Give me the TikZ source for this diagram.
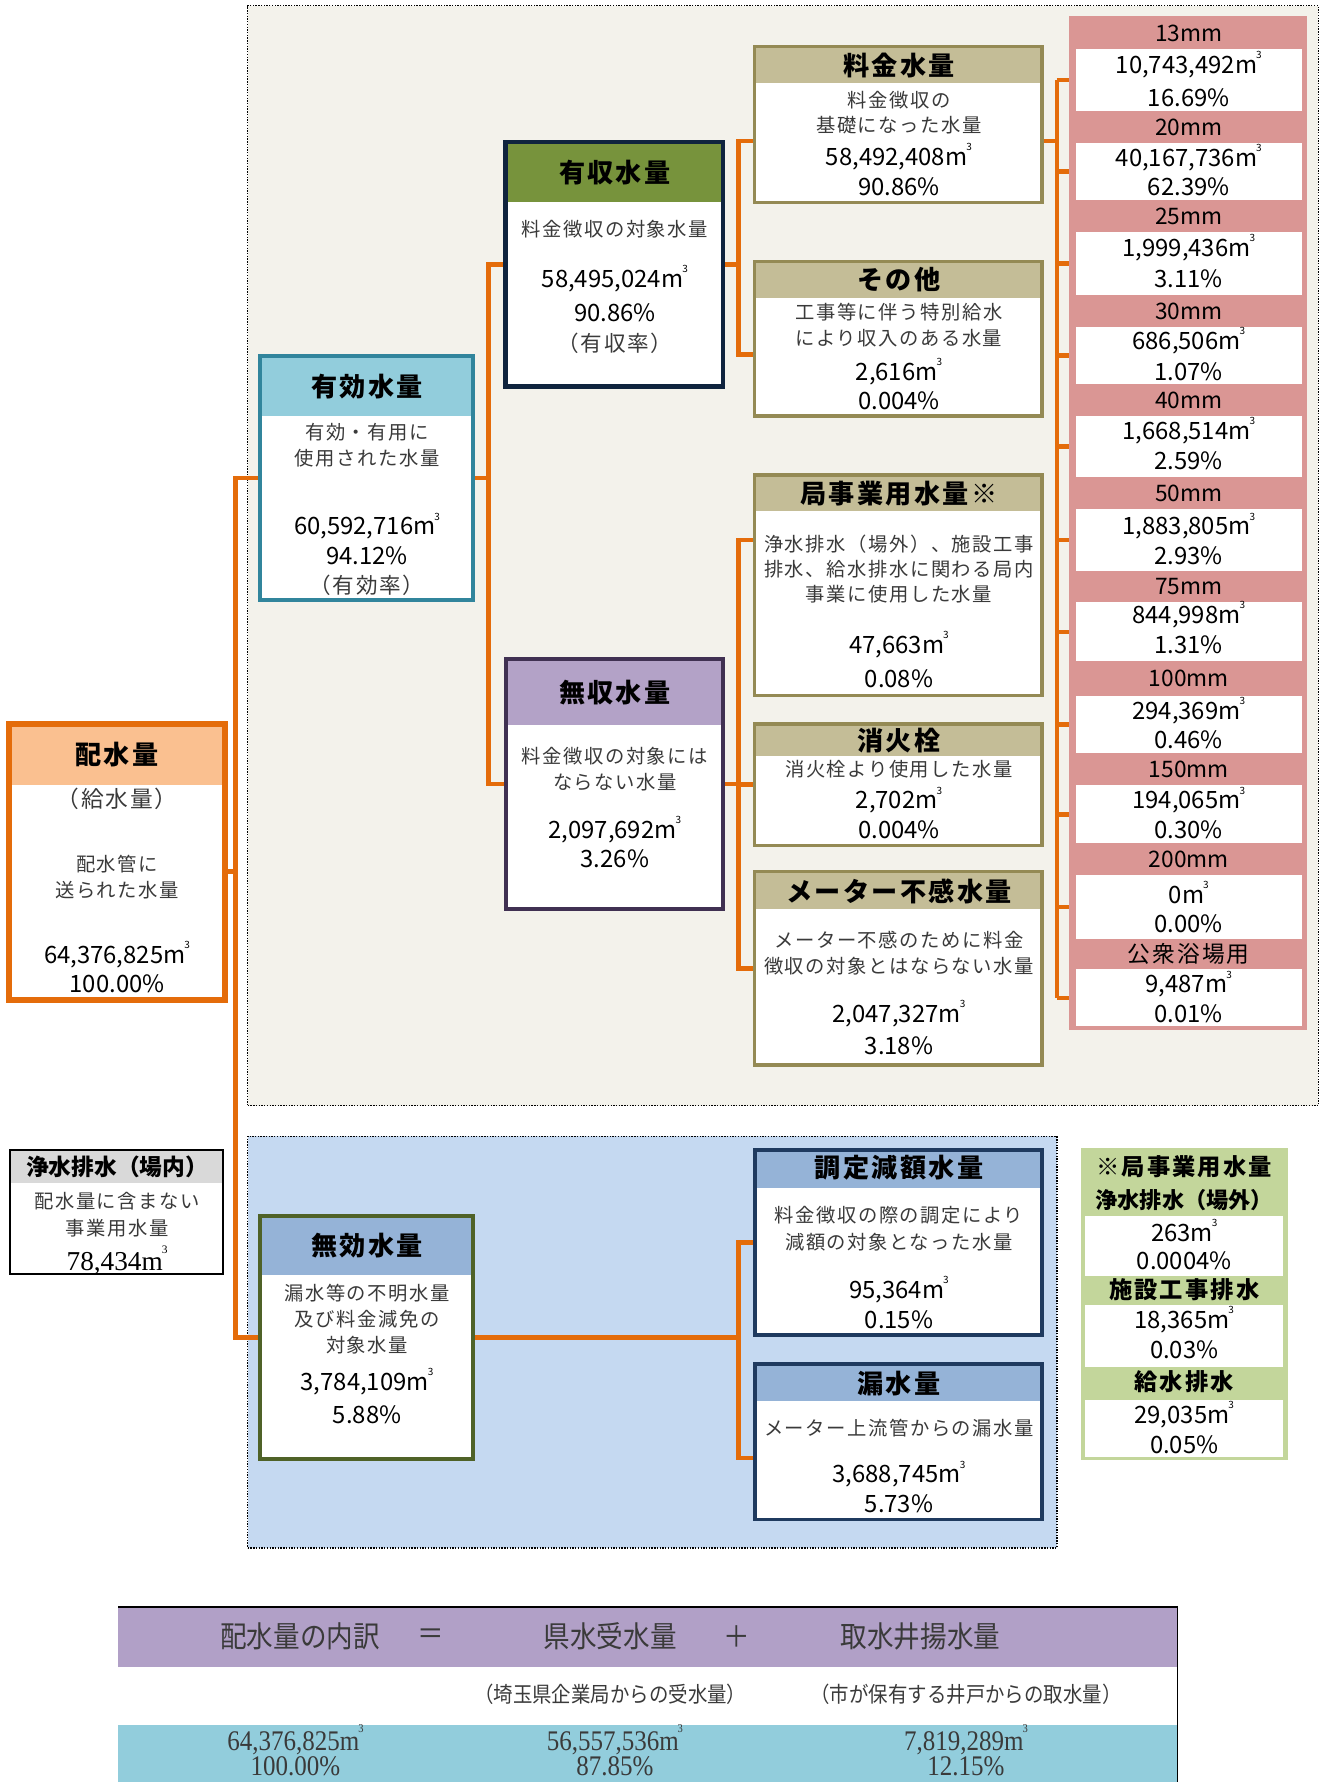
\documentclass[tikz,border=0pt]{standalone}
\usepackage{fontspec}
\setmainfont{Noto Sans CJK JP}
\newfontfamily\jpf{Noto Sans CJK JP}
\newfontfamily\jph{Noto Sans CJK JP}[LetterSpace=9]
\newfontfamily\jpd{Noto Sans CJK JP}[LetterSpace=8]
\newfontfamily\jpc{Noto Sans CJK JP}[FakeStretch=0.9]
\newfontfamily\serf{Liberation Serif}
\newfontfamily\serc{Liberation Serif}[FakeStretch=0.88]
\usetikzlibrary{calc}
\definecolor{orng}{HTML}{E46C0A}
\definecolor{peach}{HTML}{FAC090}
\definecolor{teal}{HTML}{92CDDC}
\definecolor{tealb}{HTML}{31859C}
\definecolor{olivg}{HTML}{77933C}
\definecolor{navy}{HTML}{0F243E}
\definecolor{lav}{HTML}{B3A2C7}
\definecolor{lavb}{HTML}{403152}
\definecolor{khaki}{HTML}{C4BD97}
\definecolor{khakib}{HTML}{948A54}
\definecolor{pinkc}{HTML}{DA9694}
\definecolor{bgA}{HTML}{F3F2EB}
\definecolor{bgB}{HTML}{C5D9F1}
\definecolor{blueh}{HTML}{95B3D7}
\definecolor{grnb}{HTML}{4F6228}
\definecolor{navyb}{HTML}{1F3A5F}
\definecolor{lgreen}{HTML}{C3D69B}
\definecolor{grayh}{HTML}{D9D9D9}
\definecolor{dgray}{HTML}{3A3A3A}
\definecolor{tpur}{HTML}{B1A0C7}
\newcommand\cum{m\kern-0.04em\raisebox{0.62em}{\scalebox{0.42}{3}}}
\newcounter{tn}
\newcommand\T[3]{\stepcounter{tn}\node[#1] (t\arabic{tn}) at (#2) {#3};}
\newcommand\B[8]{%
 \node[fill=white,inner sep=0,outer sep=0,minimum width=#4pt,minimum height=#5pt,anchor=north west] (#1) at (#2,#3) {};
 \node[fill=#8,inner sep=0,outer sep=0,minimum width=#4pt,minimum height=#6pt,anchor=north west] (#1h) at (#1.north west) {};
 \draw[#7] (#1.north west) rectangle (#1.south east);}
\newcommand\R[9]{%
 \node[wbox,minimum height=\the\numexpr#5-#4\relax pt] (#1) at (947,#4) {};
 \T{rc}{1046,{(#3+#4)/2}}{#2}
 \T{nm}{1046,#6}{#8}
 \T{nm}{1046,#7}{#9}}
\pgfdeclarelayer{back}
\pgfdeclarelayer{wires}
\pgfsetlayers{back,wires,main}
\begin{document}
\begin{tikzpicture}[x=1pt,y=-1pt,
  region/.style={draw=black,line width=1.2pt,dash pattern=on 1.2pt off 1.2pt,inner sep=0,outer sep=0},
  conn/.style={draw=orng,line width=4pt},
  hd/.style={font=\jph\bfseries\fontsize{23}{26}\selectfont,inner sep=0},
  ds/.style={font=\jpd\fontsize{17}{20}\selectfont,text=dgray,inner sep=0},
  pl/.style={font=\jpd\fontsize{19}{22}\selectfont,text=dgray,inner sep=0},
  nm/.style={font=\jpf\fontsize{21}{24}\selectfont,inner sep=0},
  rc/.style={font=\jpf\fontsize{20}{24}\selectfont,inner sep=0},
  gh/.style={font=\jph\bfseries\fontsize{20.5}{24}\selectfont,inner sep=0},
  wbox/.style={fill=white,inner sep=0,outer sep=0,minimum width=199pt,anchor=north west},
  gw/.style={fill=white,inner sep=0,outer sep=0,minimum width=174pt,anchor=north west},
  tj/.style={font=\jpc\fontsize{26}{28}\selectfont,text=dgray,inner sep=0},
  tjs/.style={font=\jpc\fontsize{19}{22}\selectfont,text=dgray,inner sep=0},
  tn/.style={font=\serc\fontsize{25}{27}\selectfont,text=dgray,inner sep=0}]
\useasboundingbox (0,0) rectangle (1168,1568);
\begin{pgfonlayer}{back}
\fill[white] (0,0) rectangle (1168,1568);
\node[region,fill=bgA,minimum width=942pt,minimum height=968pt,anchor=north west] (upper) at (218,5) {};
\node[region,fill=bgB,minimum width=712pt,minimum height=362pt,anchor=north west] (lower) at (218,1000) {};
\end{pgfonlayer}

% ---- main boxes
\B{haisui}{8}{637}{190}{243}{54}{draw=orng,line width=5pt}{peach}
\T{hd}{103,664}{配水量}
\T{pl,font=\jpd\fontsize{20}{22}\selectfont}{103,703}{（給水量）}
\T{ds}{103,760}{配水管に}
\T{ds}{103,783}{送られた水量}
\T{nm}{103,840}{64,376,825\cum}
\T{nm}{103,866}{100.00\%}

\B{yuko}{229}{313}{187}{215}{53}{draw=tealb,line width=3.5pt}{teal}
\T{hd}{323,340}{有効水量}
\T{ds}{323,380}{有効・有用に}
\T{ds}{323,403}{使用された水量}
\T{nm}{323,463}{60,592,716\cum}
\T{nm}{323,489}{94.12\%}
\T{pl}{323,515}{（有効率）}

\B{yushu}{445}{125}{191}{215}{53}{draw=navy,line width=4pt}{olivg}
\T{hd}{541,152}{有収水量}
\T{ds}{541,202}{料金徴収の対象水量}
\T{nm}{541,245}{58,495,024\cum}
\T{nm}{541,275}{90.86\%}
\T{pl}{541,302}{（有収率）}

\B{mushu}{445}{580}{191}{220}{58}{draw=lavb,line width=3.5pt}{lav}
\T{hd}{541,609}{無収水量}
\T{ds}{541,665}{料金徴収の対象には}
\T{ds}{541,688}{ならない水量}
\T{nm}{541,730}{2,097,692\cum}
\T{nm}{541,756}{3.26\%}

\B{ryokin}{664}{41}{253}{137}{32}{draw=khakib,line width=3pt}{khaki}
\T{hd}{791,58}{料金水量}
\T{ds}{791,88}{料金徴収の}
\T{ds}{791,110}{基礎になった水量}
\T{nm}{791,138}{58,492,408\cum}
\T{nm}{791,164}{90.86\%}

\B{sonota}{664}{230}{253}{136}{32}{draw=khakib,line width=3pt}{khaki}
\T{hd}{791,246}{その他}
\T{ds}{791,275}{工事等に伴う特別給水}
\T{ds}{791,298}{により収入のある水量}
\T{nm}{791,327}{2,616\cum}
\T{nm}{791,353}{0.004\%}

\B{kyoku}{664}{418}{253}{194}{32}{draw=khakib,line width=3pt}{khaki}
\T{hd}{791,434}{局事業用水量※}
\T{ds}{791,479}{浄水排水（場外）、施設工事}
\T{ds}{791,501}{排水、給水排水に関わる局内}
\T{ds}{791,523}{事業に使用した水量}
\T{nm}{791,567}{47,663\cum}
\T{nm}{791,597}{0.08\%}

\B{shoka}{664}{637}{253}{107}{28}{draw=khakib,line width=3pt}{khaki}
\T{hd}{791,652}{消火栓}
\T{ds}{791,677}{消火栓より使用した水量}
\T{nm}{791,704}{2,702\cum}
\T{nm}{791,730}{0.004\%}

\B{meter}{664}{767}{253}{170}{33}{draw=khakib,line width=3pt}{khaki}
\T{hd}{791,784}{メーター不感水量}
\T{ds}{791,827}{メーター不感のために料金}
\T{ds}{791,850}{徴収の対象とはならない水量}
\T{nm}{791,892}{2,047,327\cum}
\T{nm}{791,920}{3.18\%}

\B{muko}{229}{1070}{187}{214}{52}{draw=grnb,line width=3.5pt}{blueh}
\T{hd}{323,1096}{無効水量}
\T{ds}{323,1138}{漏水等の不明水量}
\T{ds}{323,1161}{及び料金減免の}
\T{ds}{323,1184}{対象水量}
\T{nm}{323,1216}{3,784,109\cum}
\T{nm}{323,1245}{5.88\%}

\B{chotei}{664}{1012}{253}{163}{33}{draw=navyb,line width=3.5pt}{blueh}
\T{hd}{791,1027}{調定減額水量}
\T{ds}{791,1069}{料金徴収の際の調定により}
\T{ds}{791,1093}{減額の対象となった水量}
\T{nm}{791,1135}{95,364\cum}
\T{nm}{791,1161}{0.15\%}

\B{rousui}{664}{1200}{253}{137}{33}{draw=navyb,line width=3.5pt}{blueh}
\T{hd}{791,1217}{漏水量}
\T{ds}{791,1257}{メーター上流管からの漏水量}
\T{nm}{791,1297}{3,688,745\cum}
\T{nm}{791,1323}{5.73\%}

\B{jousui}{9}{1012}{187}{109}{29}{draw=black,line width=2pt}{grayh}
\T{gh,font=\jpf\bfseries\fontsize{20}{24}\selectfont}{103,1027}{浄水排水（場内）}
\T{ds}{103,1057}{配水量に含まない}
\T{ds}{103,1081}{事業用水量}
\T{nm,font=\serf\fontsize{24}{26}\selectfont}{103,1109}{78,434\cum}

% ---- right column (pipe sizes)
\node[fill=pinkc,inner sep=0,outer sep=0,minimum width=209pt,minimum height=892pt,anchor=north west] (pinkcol) at (941,14) {};
\R{w13}{13mm}{15}{43}{98}{57}{86}{10,743,492\cum}{16.69\%}
\R{w20}{20mm}{98}{126}{176}{139}{164}{40,167,736\cum}{62.39\%}
\R{w25}{25mm}{176}{204}{260}{218}{245}{1,999,436\cum}{3.11\%}
\R{w30}{30mm}{260}{288}{338}{300}{327}{686,506\cum}{1.07\%}
\R{w40}{40mm}{338}{366}{420}{379}{405}{1,668,514\cum}{2.59\%}
\R{w50}{50mm}{420}{448}{502}{463}{489}{1,883,805\cum}{2.93\%}
\R{w75}{75mm}{502}{530}{582}{541}{567}{844,998\cum}{1.31\%}
\R{w100}{100mm}{582}{612}{663}{625}{651}{294,369\cum}{0.46\%}
\R{w150}{150mm}{663}{691}{742}{704}{730}{194,065\cum}{0.30\%}
\R{w200}{200mm}{742}{770}{826}{785}{813}{0\cum}{0.00\%}
\R{wpub}{\jph 公衆浴場用}{826}{853}{903}{866}{892}{9,487\cum}{0.01\%}

% ---- green note box
\node[fill=lgreen,inner sep=0,outer sep=0,minimum width=182pt,minimum height=275pt,anchor=north west] (gbox) at (951,1010) {};
\node[gw,minimum height=53pt] (g1) at (955,1070) {};
\node[gw,minimum height=55pt] (g2) at (955,1148) {};
\node[gw,minimum height=50pt] (g3) at (955,1232) {};
\T{gh}{1042,1027}{※局事業用水量}
\T{gh,font=\jpf\bfseries\fontsize{19.5}{24}\selectfont}{1042,1056}{浄水排水（場外）}
\T{nm}{1042,1083}{263\cum}
\T{nm}{1042,1109}{0.0004\%}
\T{gh}{1042,1135}{施設工事排水}
\T{nm}{1042,1161}{18,365\cum}
\T{nm}{1042,1188}{0.03\%}
\T{gh}{1042,1216}{給水排水}
\T{nm}{1042,1245}{29,035\cum}
\T{nm}{1042,1271}{0.05\%}

% ---- bottom table
\node[fill=tpur,inner sep=0,outer sep=0,minimum width=932pt,minimum height=52pt,anchor=north west] (trow1) at (104,1415) {};
\node[fill=white,inner sep=0,outer sep=0,minimum width=932pt,minimum height=51pt,anchor=north west] (trow2) at (104,1467) {};
\node[fill=teal,inner sep=0,outer sep=0,minimum width=932pt,minimum height=60pt,anchor=north west] (trow3) at (104,1518) {};
\draw[line width=2pt] ([yshift=1pt]trow1.north west) -- ([yshift=1pt]trow1.north east);
\draw[line width=1.5pt] ([yshift=2pt]trow1.north east) -- (trow3.south east);
\T{tj}{264,1440}{配水量の内訳}
\T{tj}{379,1440}{＝}
\T{tj}{537,1440}{県水受水量}
\T{tj}{648,1440}{＋}
\T{tj}{810,1440}{取水井揚水量}
\T{tjs}{537,1491}{（埼玉県企業局からの受水量）}
\T{tjs}{850,1491}{（市が保有する井戸からの取水量）}
\T{tn}{260,1531}{64,376,825\cum}
\T{tn}{260,1554}{100.00\%}
\T{tn}{541,1531}{56,557,536\cum}
\T{tn}{541,1554}{87.85\%}
\T{tn}{850,1531}{7,819,289\cum}
\T{tn}{850,1554}{12.15\%}

% ---- connectors
\coordinate (busA) at (207,0);
\coordinate (busB) at (430,0);
\coordinate (busC) at (650,0);
\coordinate (busD) at (930,0);
\begin{pgfonlayer}{wires}
\draw[conn] (yuko.west) -- (yuko.west -| busA) -- (muko.west -| busA) -- (muko.west);
\draw[conn] ([yshift=-8.5pt]haisui.east) -- ([yshift=-8.5pt]haisui.east -| busA);
\draw[conn] (yuko.east) -- (yuko.east -| busB);
\draw[conn] (yushu.west) -- (yushu.west -| busB) -- (mushu.west -| busB) -- (mushu.west);
\draw[conn] (yushu.east) -- (yushu.east -| busC);
\draw[conn] ([yshift=-14.5pt]ryokin.west) -- ([yshift=-14.5pt]ryokin.west -| busC) -- ([yshift=-14pt]sonota.west -| busC) -- ([yshift=-14pt]sonota.west);
\draw[conn] (mushu.east) -- (mushu.east -| busC);
\draw[conn] ([yshift=40pt]kyoku.west) -- ([yshift=40pt]kyoku.west -| busC) -- (meter.west -| busC) -- (meter.west);
\draw[conn] (shoka.west) -- (shoka.west -| busC);
\draw[conn] (muko.east) -- (muko.east -| busC);
\draw[conn] (chotei.west) -- (chotei.west -| busC) -- ([yshift=-14.5pt]rousui.west -| busC) -- ([yshift=-14.5pt]rousui.west);
\draw[conn] ([yshift=-14.5pt]ryokin.east) -- ([yshift=-14.5pt]ryokin.east -| busD);
\draw[conn] (w13.west -| busD) -- (wpub.west -| busD);
\foreach \w in {w13,w20,w25,w30,w40,w50,w75,w100,w150,w200,wpub}
  \draw[conn] (\w.west -| busD) -- (\w.west);
\end{pgfonlayer}
\end{tikzpicture}
\end{document}
